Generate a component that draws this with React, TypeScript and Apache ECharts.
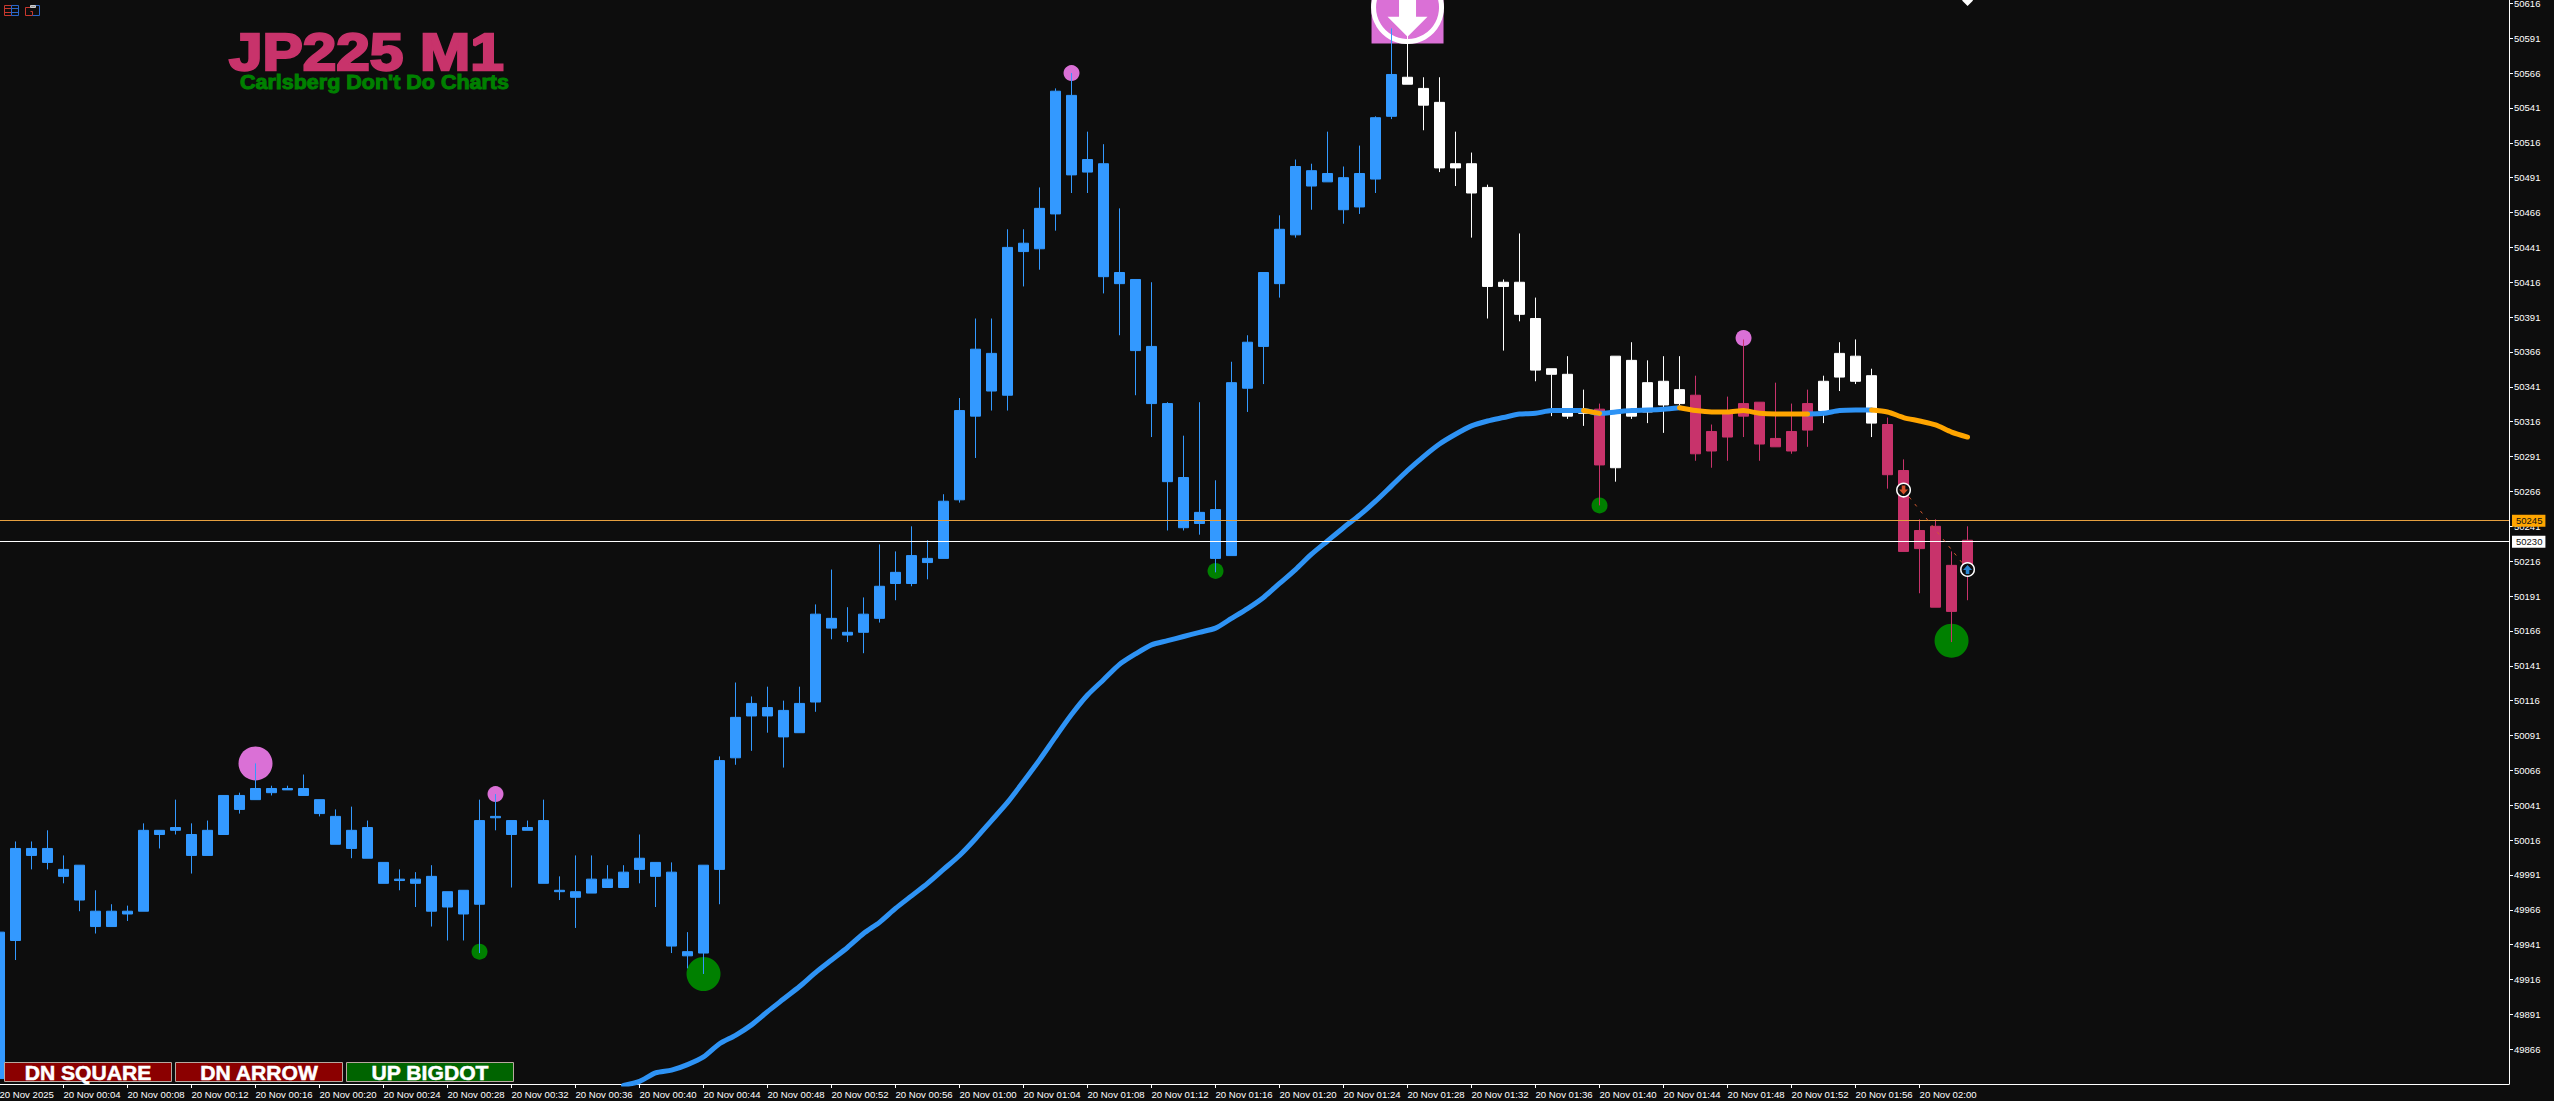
import React, { useEffect, useRef } from "react";
import * as echarts from "echarts";

const BG = "#0D0D0D";
const BLUE = "#3399FF";
const LINE_BLUE = "#2E93F5";
const CRIMSON = "#C8336B";
const ORANGE = "#FFA500";
const ORCHID = "#DA70D6";
const GREEN = "#008000";

// One entry per minute, from 20 Nov 00:00 on. The picture shows every candle in one solid colour,
// so only the body's upper and lower edge can be read.
const bodyHigh = [
  49950, 50010, 50010, 50010, 49995, 49998, 49965, 49965, 49965, 50023,
  50023, 50025, 50020, 50023, 50048, 50048, 50053, 50053, 50053, 50053,
  50045, 50033, 50023, 50025, 50000, 49988, 49988, 49990, 49979, 49980,
  50030, 50033, 50030, 50025, 50030, 49980, 49979, 49988, 49988, 49993,
  50003, 50000, 49993, 49936, 49998, 50073, 50104, 50114, 50111, 50109,
  50114, 50178, 50175, 50165, 50178, 50198, 50208, 50220, 50218, 50259,
  50324, 50368, 50365, 50441, 50444, 50469, 50553, 50550, 50504, 50501,
  50423, 50418, 50370, 50329, 50276, 50251, 50253, 50344, 50373, 50423,
  50454, 50499, 50496, 50494, 50491, 50494, 50534, 50565, 50563, 50555,
  50545, 50501, 50501, 50484, 50416, 50416, 50390, 50354, 50350, 50323,
  50325, 50363, 50360, 50344, 50345, 50339, 50335, 50309, 50322, 50329,
  50330, 50304, 50309, 50329, 50345, 50365, 50363, 50349, 50314, 50281,
  50238, 50241, 50213, 50231,
];
const bodyLow = [
  49845, 49944, 50005, 50000, 49990, 49973, 49954, 49954, 49963, 49965,
  50020, 50023, 50005, 50005, 50020, 50038, 50045, 50050, 50052, 50048,
  50035, 50013, 50010, 50003, 49985, 49987, 49985, 49965, 49968, 49963,
  49970, 50032, 50020, 50023, 49985, 49979, 49975, 49978, 49982, 49982,
  49995, 49990, 49940, 49933, 49935, 49995, 50075, 50105, 50105, 50090,
  50093, 50115, 50168, 50163, 50165, 50175, 50200, 50200, 50215, 50218,
  50260, 50320, 50338, 50335, 50438, 50440, 50465, 50493, 50495, 50420,
  50415, 50367, 50329, 50273, 50240, 50243, 50218, 50220, 50340, 50370,
  50415, 50450, 50485, 50488, 50468, 50470, 50490, 50535, 50558, 50543,
  50498, 50498, 50480, 50413, 50413, 50393, 50353, 50350, 50320, 50322,
  50285, 50283, 50320, 50323, 50328, 50329, 50293, 50295, 50305, 50320,
  50300, 50298, 50295, 50310, 50324, 50348, 50345, 50315, 50278, 50223,
  50225, 50183, 50180, 50212,
];
const wickHigh = [
  49950, 50015, 50015, 50023, 50005, 49998, 49980, 49970, 49969, 50028,
  50023, 50045, 50028, 50030, 50048, 50050, 50071, 50055, 50055, 50063,
  50045, 50038, 50040, 50030, 50000, 49995, 49993, 49998, 49979, 49980,
  50045, 50049, 50030, 50030, 50045, 49990, 50005, 50005, 49998, 49998,
  50020, 50000, 50000, 49950, 49998, 50076, 50129, 50119, 50126, 50116,
  50126, 50185, 50210, 50183, 50190, 50228, 50223, 50241, 50231, 50264,
  50333, 50390, 50390, 50454, 50454, 50484, 50555, 50566, 50524, 50515,
  50469, 50418, 50416, 50330, 50306, 50330, 50274, 50359, 50378, 50423,
  50464, 50504, 50501, 50524, 50499, 50514, 50535, 50598, 50597, 50563,
  50563, 50524, 50509, 50486, 50418, 50451, 50405, 50354, 50363, 50339,
  50329, 50363, 50373, 50360, 50363, 50363, 50349, 50314, 50334, 50375,
  50330, 50344, 50329, 50339, 50349, 50373, 50375, 50354, 50319, 50289,
  50246, 50246, 50223, 50241,
];
const wickLow = [
  49845, 49930, 49995, 49995, 49985, 49965, 49949, 49954, 49958, 49965,
  50010, 50020, 49992, 50005, 50020, 50035, 50045, 50048, 50052, 50048,
  50033, 50013, 50003, 50003, 49985, 49980, 49968, 49954, 49944, 49944,
  49935, 50023, 49982, 50023, 49985, 49973, 49953, 49978, 49982, 49982,
  49985, 49968, 49935, 49924, 49920, 49970, 50070, 50080, 50093, 50068,
  50093, 50108, 50160, 50158, 50150, 50172, 50188, 50198, 50203, 50218,
  50258, 50290, 50324, 50324, 50413, 50425, 50453, 50480, 50480, 50408,
  50378, 50335, 50305, 50238, 50238, 50235, 50208, 50220, 50323, 50343,
  50405, 50448, 50468, 50488, 50458, 50465, 50480, 50533, 50558, 50525,
  50495, 50485, 50448, 50390, 50367, 50388, 50345, 50320, 50318, 50313,
  50256, 50273, 50318, 50315, 50308, 50326, 50288, 50283, 50288, 50305,
  50288, 50298, 50293, 50298, 50315, 50338, 50343, 50305, 50268, 50223,
  50193, 50183, 50158, 50188,
];
const whiteBars = [88, 89, 90, 91, 92, 93, 94, 95, 96, 97, 98, 99, 101, 102, 103, 104, 105, 114, 115, 116, 117];
const crimsonBars = [100, 106, 107, 108, 109, 110, 111, 112, 113, 118, 119, 120, 121, 122, 123];

const maFirstBar = 39;
const movingAverage = [
  49840, 49843, 49849, 49851, 49855, 49860.5, 49870, 49876, 49883.5, 49893,
  49902, 49911, 49921, 49930, 49939, 49949, 49957, 49967, 49976, 49985,
  49995, 50005, 50017, 50030, 50043, 50058, 50073.5, 50090, 50106, 50120,
  50131, 50142, 50149.5, 50156, 50159, 50162, 50165, 50168, 50175, 50182,
  50190, 50200, 50210, 50221, 50230.5, 50240, 50249, 50259, 50270, 50281,
  50291, 50300, 50307, 50313, 50316.5, 50319, 50321.5, 50322, 50324, 50324,
  50324, 50322, 50323, 50324, 50324.4, 50325, 50326, 50324, 50323, 50323,
  50324, 50322, 50321.5, 50321.5, 50321.5, 50322, 50324, 50324.4, 50324.4, 50323,
  50319, 50316.5, 50313.7, 50308.6, 50305,
];
const maOrangeRuns = [[99, 100], [105, 113], [117, 123]];

const bigPeakDots = [[16, 50071]];
const bigTroughDots = [[44, 49920], [122, 50159]];
const smallPeakDots = [[31, 50049], [67, 50566], [109, 50376]];
const smallTroughDots = [[30, 49936], [76, 50209], [100, 50256]];
const arrowBadge = [[88, 50613]];
const topDiamond = [[123, 50618]];
const sellMark = [[119, 50267]];
const buyMark = [[123, 50210]];

const askLevel = 50245;
const bidLevel = 50230;

const priceTicks = [
  50616, 50591, 50566, 50541, 50516, 50491, 50466, 50441, 50416, 50391, 50366,
  50341, 50316, 50291, 50266, 50241, 50216, 50191, 50166, 50141, 50116, 50091,
  50066, 50041, 50016, 49991, 49966, 49941, 49916, 49891, 49866,
];
const timeLabels = [
  "20 Nov 2025", "20 Nov 00:04", "20 Nov 00:08", "20 Nov 00:12", "20 Nov 00:16", "20 Nov 00:20",
  "20 Nov 00:24", "20 Nov 00:28", "20 Nov 00:32", "20 Nov 00:36", "20 Nov 00:40", "20 Nov 00:44",
  "20 Nov 00:48", "20 Nov 00:52", "20 Nov 00:56", "20 Nov 01:00", "20 Nov 01:04", "20 Nov 01:08",
  "20 Nov 01:12", "20 Nov 01:16", "20 Nov 01:20", "20 Nov 01:24", "20 Nov 01:28", "20 Nov 01:32",
  "20 Nov 01:36", "20 Nov 01:40", "20 Nov 01:44", "20 Nov 01:48", "20 Nov 01:52", "20 Nov 01:56",
  "20 Nov 02:00",
];
const timeTicks = timeLabels.map((_, k) => k * 4);

const buttonLabels = ["DN SQUARE", "DN ARROW", "UP BIGDOT"];
const buttonFills = ["#8B0000", "#8B0000", "#006400"];
const titleText = "JP225 M1";
const subtitleText = "Carlsberg Don't Do Charts";

const DOWN_BIG = "path://M11.5 0H28.5V38.6H40L20 58.6L0 38.6H11.5Z";
const DOWN_SMALL = "path://M3 0H7V4H10L5 9L0 4H3Z";
const UP_SMALL = "path://M5 0L10 5H7V9H3V5H0Z";

function barColor(i: number) {
  if (whiteBars.includes(i)) return "#FFFFFF";
  if (crimsonBars.includes(i)) return CRIMSON;
  return BLUE;
}

function scatter(data: number[][], size: any, color: string, z: number, extra: any = {}) {
  return {
    type: "scatter",
    data,
    symbolSize: size,
    itemStyle: { color, opacity: 1 },
    z,
    silent: true,
    ...extra,
  };
}

function levelLabel(bg: string) {
  return {
    show: true,
    position: "end",
    distance: 3,
    backgroundColor: bg,
    color: "#111111",
    fontFamily: "Liberation Sans",
    fontSize: 9.5,
    padding: [1, 3, 1, 4],
    formatter: "{c}",
  };
}

function buildOption() {
  const candles = bodyHigh.map((h, i) => {
    const c = barColor(i);
    return {
      value: [i, bodyLow[i], h, wickLow[i], wickHigh[i]],
      itemStyle: { color: c, color0: c, borderColor: c, borderColor0: c, borderColorDoji: c },
    };
  });
  const maAt = (i: number) => movingAverage[i - maFirstBar];
  const inside = (i: number) => maOrangeRuns.some(([a, b]) => i > a && i < b);
  const within = (i: number) => maOrangeRuns.some(([a, b]) => i >= a && i <= b);
  const bars = movingAverage.map((_, k) => k + maFirstBar);
  const maBlue = bars.map((i) => [i, inside(i) ? null : maAt(i)]);
  const maOrange = bars.map((i) => [i, within(i) ? maAt(i) : null]);

  const buttons: any[] = [];
  buttonLabels.forEach((t, k) => {
    const x = 4.5 + k * 171;
    buttons.push({
      type: "rect",
      shape: { x, y: 1062.5, width: 167, height: 19 },
      style: { fill: buttonFills[k], stroke: "#B9A9A0", lineWidth: 1 },
      z: 20,
    });
    buttons.push({
      type: "text",
      x: x + 83.5,
      y: 1072.5,
      scaleX: 1.03,
      style: {
        text: t,
        fill: "#FFFFFF",
        stroke: "#FFFFFF",
        lineWidth: 0.5,
        font: "bold 20.5px 'Liberation Sans'",
        textAlign: "center",
        textVerticalAlign: "middle",
      },
      z: 21,
    });
  });

  const iconLine = (x1: number, y1: number, x2: number, y2: number, stroke: string) => ({
    type: "line",
    shape: { x1, y1, x2, y2 },
    style: { stroke, lineWidth: 1 },
    z: 20,
  });
  const icons: any[] = [
    { type: "rect", shape: { x: 4.5, y: 5.5, width: 7, height: 10 }, style: { fill: "none", stroke: "#C8382E", lineWidth: 1 }, z: 20 },
    { type: "rect", shape: { x: 11.5, y: 5.5, width: 7, height: 10 }, style: { fill: "none", stroke: "#2A66C8", lineWidth: 1 }, z: 20 },
    iconLine(5, 8.5, 11, 8.5, "#C8382E"),
    iconLine(5, 12.5, 11, 12.5, "#C8382E"),
    iconLine(12, 8.5, 18, 8.5, "#2A66C8"),
    iconLine(12, 12.5, 18, 12.5, "#2A66C8"),
    { type: "polyline", shape: { points: [[30.5, 7.5], [25.5, 7.5], [25.5, 15.5], [32.5, 15.5], [32.5, 11.5], [30.5, 11.5]] }, style: { fill: "none", stroke: "#C8382E", lineWidth: 1 }, z: 20 },
    { type: "polyline", shape: { points: [[35.5, 5.5], [39.5, 5.5], [39.5, 15.5], [32.5, 15.5]] }, style: { fill: "none", stroke: "#2A66C8", lineWidth: 1 }, z: 20 },
    { type: "rect", shape: { x: 30.5, y: 5.5, width: 5, height: 2 }, style: { fill: "#999999", stroke: "#CCCCCC", lineWidth: 1 }, z: 20 },
  ];

  return {
    animation: false,
    backgroundColor: BG,
    grid: { left: -0.5, right: 45, top: 0, bottom: 17, containLabel: false, outerBoundsMode: "none" },
    xAxis: {
      type: "value",
      min: 0,
      max: 156.84,
      splitLine: { show: false },
      axisLine: { show: true, onZero: false, lineStyle: { color: "#FFFFFF", width: 1 } },
      axisTick: { show: true, length: 4, lineStyle: { color: "#FFFFFF", width: 1 }, customValues: timeTicks },
      axisLabel: {
        customValues: timeTicks,
        formatter: (v: number) => timeLabels[Math.round(v / 4)] ?? "",
        align: "left",
        color: "#FFFFFF",
        fontFamily: "Liberation Sans",
        fontSize: 9.6,
        margin: 5,
        hideOverlap: false,
        showMinLabel: true,
      },
    },
    yAxis: {
      type: "value",
      position: "right",
      min: 49841.1,
      max: 50618.4,
      splitLine: { show: false },
      axisLine: { show: true, onZero: false, lineStyle: { color: "#FFFFFF", width: 1 } },
      axisTick: { show: true, length: 4, lineStyle: { color: "#FFFFFF", width: 1 }, customValues: priceTicks },
      axisLabel: {
        customValues: priceTicks,
        formatter: (v: number) => String(v),
        color: "#FFFFFF",
        fontFamily: "Liberation Sans",
        fontSize: 9.5,
        margin: 5,
      },
    },
    series: [
      {
        type: "line",
        data: [],
        z: 1,
        silent: true,
        markLine: {
          silent: true,
          symbol: "none",
          animation: false,
          data: [
            { yAxis: askLevel, lineStyle: { color: "#E6A040", width: 1, type: "solid" }, label: levelLabel(ORANGE) },
            { yAxis: bidLevel, lineStyle: { color: "#FFFFFF", width: 1, type: "solid" }, label: levelLabel("#FFFFFF") },
          ],
        },
      },
      scatter(bigPeakDots, 34, ORCHID, 2),
      scatter(bigTroughDots, 34, GREEN, 2),
      scatter(smallPeakDots, 16, ORCHID, 2),
      scatter(smallTroughDots, 16, GREEN, 2),
      scatter(arrowBadge, 72, ORCHID, 2, { symbol: "rect", clip: false }),
      {
        type: "scatter",
        data: arrowBadge,
        symbolSize: 68,
        clip: false,
        itemStyle: { color: "transparent", borderColor: "#FFFFFF", borderWidth: 5, opacity: 1 },
        z: 2,
        silent: true,
      },
      scatter(arrowBadge, [40, 58.6], "#FFFFFF", 2, { symbol: DOWN_BIG, clip: false }),
      scatter(topDiamond, 11, "#FFFFFF", 2, { symbol: "diamond", clip: false }),
      {
        type: "candlestick",
        data: candles,
        barWidth: 10,
        clip: false,
        z: 3,
        silent: true,
        itemStyle: { borderWidth: 1 },
      },
      {
        type: "line",
        data: maBlue,
        showSymbol: false,
        symbol: "none",
        connectNulls: false,
        smooth: 0.25,
        lineStyle: { color: LINE_BLUE, width: 5, cap: "round", join: "round" },
        z: 4,
        silent: true,
      },
      {
        type: "line",
        data: maOrange,
        showSymbol: false,
        symbol: "none",
        connectNulls: false,
        smooth: 0.25,
        lineStyle: { color: ORANGE, width: 5, cap: "round", join: "round" },
        z: 5,
        silent: true,
      },
      {
        type: "line",
        data: [...sellMark, ...buyMark],
        showSymbol: false,
        symbol: "none",
        lineStyle: { color: "#D2592F", width: 1, type: [3, 6] },
        z: 5,
        silent: true,
      },
      {
        type: "scatter",
        data: [...sellMark, ...buyMark],
        symbolSize: 13.5,
        itemStyle: { color: BG, borderColor: "#FFFFFF", borderWidth: 1.5, opacity: 1 },
        z: 6,
        silent: true,
      },
      scatter(sellMark, 9, "#D4502A", 7, { symbol: DOWN_SMALL }),
      scatter(buyMark, 9, "#2A86D0", 7, { symbol: UP_SMALL }),
    ],
    graphic: [
      {
        type: "text",
        x: 229,
        y: 26,
        scaleX: 1.16,
        style: {
          text: titleText,
          fill: CRIMSON,
          stroke: CRIMSON,
          lineWidth: 2.4,
          font: "bold 52px 'Liberation Sans'",
        },
        z: 19,
      },
      {
        type: "text",
        x: 240,
        y: 72,
        scaleX: 1.075,
        style: {
          text: subtitleText,
          fill: GREEN,
          stroke: GREEN,
          lineWidth: 1,
          font: "bold 20px 'Liberation Sans'",
        },
        z: 20,
      },
      ...buttons,
      ...icons,
    ],
  };
}

export default function App() {
  const ref = useRef<HTMLDivElement>(null);
  useEffect(() => {
    document.body.style.margin = "0";
    document.body.style.background = BG;
    document.body.style.overflow = "hidden";
    const chart = echarts.init(ref.current!, undefined, { renderer: "svg" });
    chart.setOption(buildOption() as any);
    return () => chart.dispose();
  }, []);
  return <div ref={ref} style={{ width: 2554, height: 1101 }} />;
}
